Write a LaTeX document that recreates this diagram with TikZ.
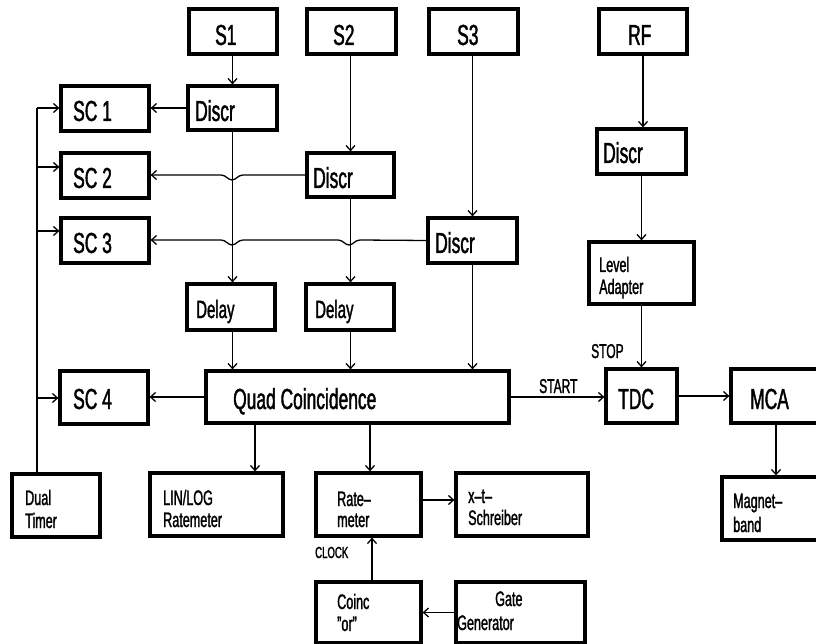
\documentclass[tikz,border=0pt]{standalone}
\usepackage{fontspec}
\setmainfont{Liberation Sans}[FakeStretch=0.6,FakeBold=1.4]
\usetikzlibrary{arrows.meta}
\begin{document}
\begin{tikzpicture}[x=1pt,y=-1pt,
  box/.style={draw, line width=3.2pt, inner sep=0pt},
  con/.style={line width=1.3pt},
  arr/.style={con, -{Straight Barb[length=5pt,width=9pt,line width=1.3pt]}},
  txt/.style={inner sep=0pt, anchor=base west},
  big/.style={txt, font=\fontsize{29}{30}\selectfont},
  mid/.style={txt, font=\fontsize{25}{26}\selectfont},
  sml/.style={txt, font=\fontsize{21}{22}\selectfont},
  lbl/.style={txt, font=\fontsize{20}{20}\selectfont},
  tny/.style={txt, font=\fontsize{16}{16}\selectfont}]
\clip (0,0) rectangle (816,644);
\fill[white] (0,0) rectangle (816,644);
% boxes
\node[box, minimum width=88pt, minimum height=45pt] (s1) at (233,31.5) {};
\node[box, minimum width=89pt, minimum height=45pt] (s2) at (351.5,31.5) {};
\node[box, minimum width=89pt, minimum height=45pt] (s3) at (473.5,31.5) {};
\node[box, minimum width=88pt, minimum height=45pt] (rf) at (643,31.5) {};
\node[box, minimum width=88pt, minimum height=45pt] (sc1) at (105,108.5) {};
\node[box, minimum width=88pt, minimum height=45pt] (sc2) at (105,175.5) {};
\node[box, minimum width=88pt, minimum height=45pt] (sc3) at (105,240.5) {};
\node[box, minimum width=88pt, minimum height=53pt] (sc4) at (104,397.5) {};
\node[box, minimum width=89pt, minimum height=44pt] (d1) at (232.5,108) {};
\node[box, minimum width=87pt, minimum height=44pt] (d2) at (350.5,175) {};
\node[box, minimum width=89pt, minimum height=45pt] (d3) at (472.5,240.5) {};
\node[box, minimum width=89pt, minimum height=45pt] (drf) at (641.5,151.5) {};
\node[box, minimum width=105pt, minimum height=62pt] (lev) at (641.5,273) {};
\node[box, minimum width=88pt, minimum height=46pt] (dl1) at (231,307) {};
\node[box, minimum width=88pt, minimum height=46pt] (dl2) at (350,307) {};
\node[box, minimum width=303pt, minimum height=52pt] (quad) at (357.5,397) {};
\node[box, minimum width=71pt, minimum height=54pt] (tdc) at (641.5,396) {};
\node[box, minimum width=99pt, minimum height=54pt] (mca) at (780.5,396) {};
\node[box, minimum width=88pt, minimum height=63pt] (dual) at (56,505.5) {};
\node[box, minimum width=133pt, minimum height=63pt] (lin) at (216.5,504.5) {};
\node[box, minimum width=105pt, minimum height=63pt] (rate) at (368.5,504.5) {};
\node[box, minimum width=132pt, minimum height=63pt] (xt) at (522,504.5) {};
\node[box, minimum width=108pt, minimum height=63pt] (mag) at (776,508.5) {};
\node[box, minimum width=105pt, minimum height=61pt] (coinc) at (368.5,612.5) {};
\node[box, minimum width=129pt, minimum height=61pt] (gate) at (520.5,612.5) {};
% texts
\node[big] (ts1) at (215,45) {S1};
\node[big] (ts2) at (333,45) {S2};
\node[big] (ts3) at (457,45) {S3};
\node[big] (trf) at (628,45) {RF};
\node[big] (tsc1) at (73,121) {SC 1};
\node[big] (tsc2) at (73,188) {SC 2};
\node[big] (tsc3) at (73,253) {SC 3};
\node[big] (tsc4) at (73,409) {SC 4};
\node[big] (td1) at (195,121) {Discr};
\node[big] (td2) at (313,188) {Discr};
\node[big] (td3) at (435,253) {Discr};
\node[big] (tdrf) at (603,163) {Discr};
\node[mid] (tdl1) at (196,318) {Delay};
\node[mid] (tdl2) at (315,318) {Delay};
\node[big] (tquad) at (233,409) {Quad Coincidence};
\node[big] (ttdc) at (618,409) {TDC};
\node[big] (tmca) at (750,409) {MCA};
\node[sml] (tlev1) at (599,272) {Level};
\node[sml] (tlev2) at (599,294) {Adapter};
\node[sml] (tdual1) at (25,505) {Dual};
\node[sml] (tdual2) at (25,528) {Timer};
\node[sml] (tlin1) at (163,505) {LIN/LOG};
\node[sml] (tlin2) at (163,527) {Ratemeter};
\node[sml] (trate1) at (337,506) {Rate--};
\node[sml] (trate2) at (337,527) {meter};
\node[sml] (txt1) at (468,503) {x--t--};
\node[sml] (txt2) at (468,525) {Schreiber};
\node[sml] (tmag1) at (733,508) {Magnet--};
\node[sml] (tmag2) at (733,532) {band};
\node[sml] (tco1) at (337,609) {Coinc};
\node[sml] (tco2) at (337,631) {"or"};
\node[sml] (tga1) at (495,606) {Gate};
\node[sml] (tga2) at (457,630) {Generator};
\node[lbl] (tstart) at (539,393) {START};
\node[lbl] (tstop) at (591,358) {STOP};
\node[tny] (tclock) at (315,558) {CLOCK};
% vertical connectors
\draw[arr] (d1.north |- s1.south) -- (d1.north);
\draw[arr] (d2.north |- s2.south) -- (d2.north);
\draw[arr] (d3.north |- s3.south) -- (d3.north);
\draw[arr] (rf.south) -- (rf.south |- drf.north);
\draw[arr] (drf.south) -- (drf.south |- lev.north);
\draw[arr] (lev.south) -- (lev.south |- tdc.north);
\draw[arr] (d1.south) -- (d1.south |- dl1.north);
\draw[arr] (d2.south) -- (d2.south |- dl2.north);
\draw[arr] (d1.south |- dl1.south) -- (d1.south |- quad.north);
\draw[arr] (d2.south |- dl2.south) -- (d2.south |- quad.north);
\draw[arr] (d3.south) -- (d3.south |- quad.north);
\draw[arr] (255,0 |- quad.south) -- (255,0 |- lin.north);
\draw[arr] (370,0 |- quad.south) -- (370,0 |- rate.north);
\draw[arr] (372,0 |- coinc.north) -- (372,0 |- rate.south);
\draw[arr] (776,0 |- mca.south) -- (776,0 |- mag.north);
% horizontal connectors
\draw[arr] (d1.west) -- (d1.west -| sc1.east);
\draw[arr] (d2.west) -- (243,175) .. controls (238,175) and (236,180) .. (232,180)
  .. controls (228,180) and (226,175) .. (221,175) -- (sc2.east |- 0,175);
\draw[arr] (d3.west) -- (360,240) .. controls (355,240) and (353,245) .. (349,245)
  .. controls (345,245) and (343,240) .. (338,240) -- (243,240)
  .. controls (238,240) and (236,245) .. (232,245)
  .. controls (228,245) and (226,240) .. (221,240) -- (sc3.east |- 0,240);
\draw[arr] (quad.west) -- (quad.west -| sc4.east);
\draw[arr] (quad.east) -- (quad.east -| tdc.west);
\draw[arr] (tdc.east) -- (tdc.east -| mca.west);
\draw[arr] (0,500 -| rate.east) -- (0,500 -| xt.west);
\draw[arr] (gate.west) -- (gate.west -| coinc.east);
% dual timer bus
\coordinate (b1) at (37,108);
\coordinate (b2) at (37,167);
\coordinate (b3) at (37,231);
\coordinate (b4) at (37,398);
\draw[con] (37,0 |- dual.north) -- (b1);
\draw[arr] (b1) -- (b1 -| sc1.west);
\draw[arr] (b2) -- (b2 -| sc2.west);
\draw[arr] (b3) -- (b3 -| sc3.west);
\draw[arr] (b4) -- (b4 -| sc4.west);
\end{tikzpicture}
\end{document}
